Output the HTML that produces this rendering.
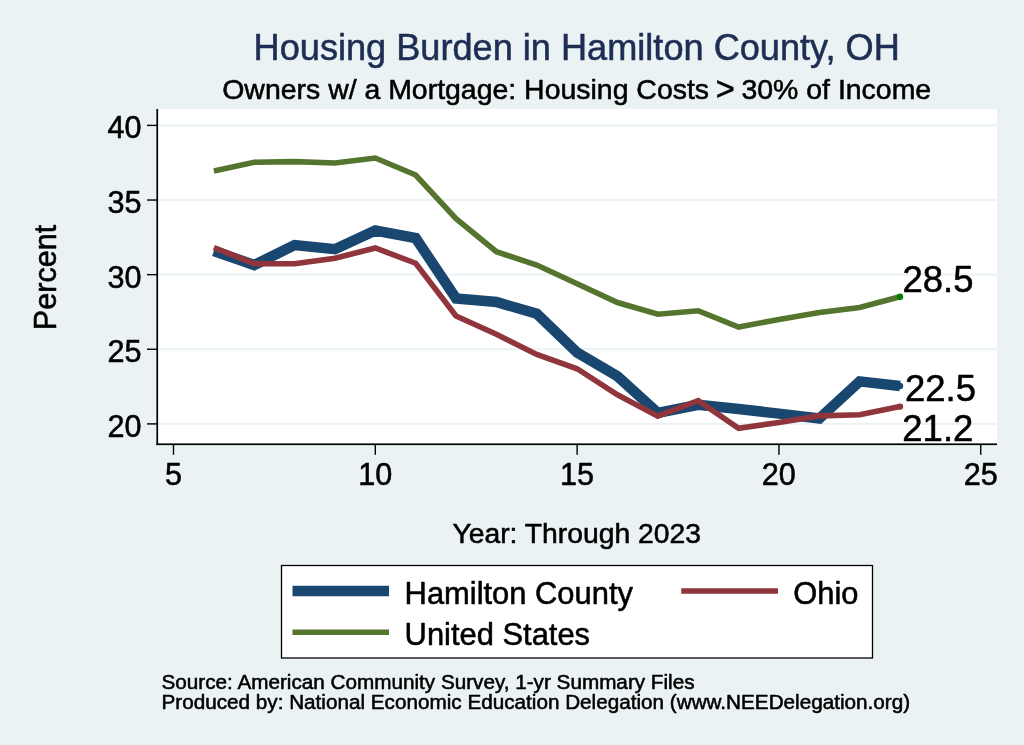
<!DOCTYPE html>
<html><head><meta charset="utf-8"><title>Housing Burden in Hamilton County, OH</title>
<style>
html,body{margin:0;padding:0;background:#eaf2f3;}
svg{display:block;font-family:"Liberation Sans",Arial,Helvetica,sans-serif;}
text{stroke:#000;stroke-width:0.55px;stroke-linejoin:round;}
text.t{stroke:#1e2d53;}
</style></head><body>
<svg width="1024" height="745" viewBox="0 0 1024 745">
<rect width="1024" height="745" fill="#eaf2f3"/>
<rect x="157" y="109" width="840" height="335.3" fill="#fff"/>
<rect x="158" y="422.90" width="839" height="2" fill="#eaf2f3"/><rect x="158" y="348.27" width="839" height="2" fill="#eaf2f3"/><rect x="158" y="273.65" width="839" height="2" fill="#eaf2f3"/><rect x="158" y="199.02" width="839" height="2" fill="#eaf2f3"/><rect x="158" y="124.40" width="839" height="2" fill="#eaf2f3"/>
<text x="576.7" y="60" text-anchor="middle" font-size="36.15" fill="#1e2d53" class="t">Housing Burden in Hamilton County, OH</text>
<text x="576.7" y="98.5" text-anchor="middle" font-size="28.45" fill="#000">Owners w/ a Mortgage: Housing Costs <tspan font-size="32.5" dx="-1.2" dy="1.2">&gt;</tspan><tspan dx="-1.2" dy="-1.2"> 30% of Income</tspan></text>
<g fill="none" stroke-linejoin="miter" stroke-linecap="butt">
<polyline points="213.86,251.00 254.22,265.00 294.59,245.10 334.95,249.25 375.31,230.50 415.67,238.00 456.04,298.50 496.40,302.00 536.76,313.75 577.12,352.50 617.49,376.25 657.85,412.80 698.21,404.80 738.57,409.00 778.94,413.60 819.30,418.50 859.66,381.40 900.02,386.00" stroke="#1a476f" stroke-width="10.5"/>
<polyline points="213.86,247.60 254.22,263.60 294.59,263.70 334.95,258.25 375.31,248.00 415.67,263.25 456.04,316.00 496.40,334.20 536.76,354.50 577.12,368.75 617.49,394.80 657.85,416.20 698.21,400.60 738.57,428.30 778.94,422.50 819.30,415.90 859.66,414.80 900.02,406.60" stroke="#90353b" stroke-width="5.6"/>
<polyline points="213.86,171.00 254.22,162.20 294.59,161.60 334.95,163.00 375.31,158.00 415.67,175.00 456.04,218.75 496.40,251.75 536.76,265.00 577.12,283.75 617.49,302.50 657.85,314.25 698.21,310.75 738.57,327.00 778.94,319.50 819.30,312.40 859.66,307.50 900.02,296.70" stroke="#55752f" stroke-width="5.6"/>
</g>
<circle cx="900.02" cy="386" r="3.2" fill="#1a476f"/>
<circle cx="900.02" cy="406.6" r="3.2" fill="#90353b"/>
<circle cx="900.02" cy="296.7" r="3.2" fill="#008000"/>
<g fill="#000">
<text x="902.5" y="291.8" font-size="36.5">28.5</text>
<text x="905" y="400.8" font-size="36.5">22.5</text>
<text x="902.3" y="440.8" font-size="36.5">21.2</text>
</g>
<rect x="156.4" y="109" width="1.7" height="336.1" fill="#000"/>
<rect x="156.4" y="443.4" width="840.6" height="1.7" fill="#000"/>
<g fill="#000"><rect x="147" y="423.20" width="10" height="1.4" fill="#000"/><text x="141.5" y="436.80" text-anchor="end" font-size="30.60">20</text><rect x="147" y="348.57" width="10" height="1.4" fill="#000"/><text x="141.5" y="362.17" text-anchor="end" font-size="30.60">25</text><rect x="147" y="273.95" width="10" height="1.4" fill="#000"/><text x="141.5" y="287.55" text-anchor="end" font-size="30.60">30</text><rect x="147" y="199.32" width="10" height="1.4" fill="#000"/><text x="141.5" y="212.92" text-anchor="end" font-size="30.60">35</text><rect x="147" y="124.70" width="10" height="1.4" fill="#000"/><text x="141.5" y="138.30" text-anchor="end" font-size="30.60">40</text><rect x="172.80" y="445" width="1.4" height="9.8" fill="#000"/><text x="173.40" y="484.5" text-anchor="middle" font-size="30.60">5</text><rect x="374.61" y="445" width="1.4" height="9.8" fill="#000"/><text x="375.21" y="484.5" text-anchor="middle" font-size="30.60">10</text><rect x="576.42" y="445" width="1.4" height="9.8" fill="#000"/><text x="577.02" y="484.5" text-anchor="middle" font-size="30.60">15</text><rect x="778.24" y="445" width="1.4" height="9.8" fill="#000"/><text x="778.84" y="484.5" text-anchor="middle" font-size="30.60">20</text><rect x="980.05" y="445" width="1.4" height="9.8" fill="#000"/><text x="980.65" y="484.5" text-anchor="middle" font-size="30.60">25</text>
<text transform="translate(55.8,277.5) rotate(-90)" text-anchor="middle" font-size="30.6">Percent</text>
<text x="576.7" y="543.3" text-anchor="middle" font-size="28.3">Year: Through 2023</text>
</g>
<rect x="281.5" y="565.5" width="591" height="92.5" fill="#fff" stroke="#000" stroke-width="1.3"/>
<rect x="292.5" y="585.75" width="96.5" height="10.5" fill="#1a476f"/>
<rect x="681.25" y="588.25" width="96.75" height="5.5" fill="#90353b"/>
<rect x="292.5" y="629.5" width="96.5" height="5.5" fill="#55752f"/>
<g fill="#000" font-size="30.9">
<text x="404.6" y="603.6">Hamilton County</text>
<text x="793.3" y="603.6">Ohio</text>
<text x="404.6" y="644.6">United States</text>
</g>
<g fill="#000" font-size="20.7">
<text x="161.5" y="688.7">Source: American Community Survey, 1-yr Summary Files</text>
<text x="161.5" y="708.75">Produced by: National Economic Education Delegation (www.NEEDelegation.org)</text>
</g>
</svg>
</body></html>
